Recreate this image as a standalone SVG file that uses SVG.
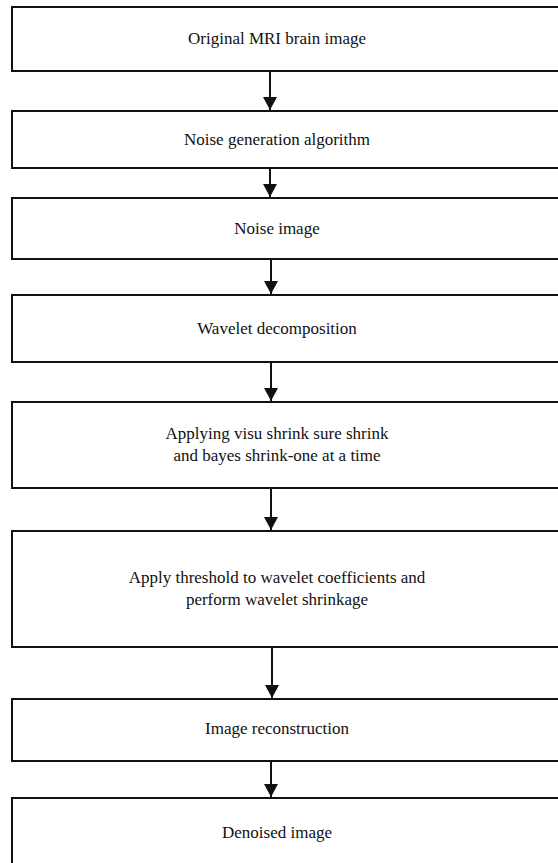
<svg xmlns="http://www.w3.org/2000/svg" width="558" height="863" viewBox="0 0 558 863">
<defs>
<style>
.box{fill:#fff;stroke:#111;stroke-width:2}
.t{font-family:"Liberation Serif","Times New Roman",serif;font-size:17px;fill:#111;text-anchor:middle}
.c{stroke:#111;stroke-width:2;fill:none;marker-end:url(#ah)}
</style>
<marker id="ah" markerWidth="13" markerHeight="14" refX="13" refY="7" orient="auto" markerUnits="userSpaceOnUse" viewBox="0 0 13 14">
<path d="M0,0 L13,7 L0,14 Z" fill="#111"/>
</marker>
</defs>
<rect width="558" height="863" fill="#fff"/>
<g id="n1"><rect class="box" x="12" y="7" width="570" height="64"/><text class="t" x="277" y="44">Original MRI brain image</text></g>
<g id="n2"><rect class="box" x="12" y="111" width="570" height="57"/><text class="t" x="277" y="145">Noise generation algorithm</text></g>
<g id="n3"><rect class="box" x="12" y="198" width="570" height="61"/><text class="t" x="277" y="234">Noise image</text></g>
<g id="n4"><rect class="box" x="12" y="295" width="570" height="67"/><text class="t" x="277" y="334">Wavelet decomposition</text></g>
<g id="n5"><rect class="box" x="12" y="402" width="570" height="86"/><text class="t" x="277" y="439">Applying visu shrink sure shrink</text><text class="t" x="277" y="461">and bayes shrink-one at a time</text></g>
<g id="n6"><rect class="box" x="12" y="531" width="570" height="116"/><text class="t" x="277" y="583">Apply threshold to wavelet coefficients and</text><text class="t" x="277" y="605">perform wavelet shrinkage</text></g>
<g id="n7"><rect class="box" x="12" y="699" width="570" height="62"/><text class="t" x="277" y="734">Image reconstruction</text></g>
<g id="n8"><rect class="box" x="12" y="798" width="570" height="80"/><text class="t" x="277" y="838">Denoised image</text></g>
<g id="connectors">
<line class="c" x1="270" y1="72" x2="270" y2="110"/>
<line class="c" x1="270" y1="169" x2="270" y2="197"/>
<line class="c" x1="271" y1="260" x2="271" y2="294"/>
<line class="c" x1="271" y1="363" x2="271" y2="401"/>
<line class="c" x1="271" y1="489" x2="271" y2="530"/>
<line class="c" x1="272" y1="648" x2="272" y2="698"/>
<line class="c" x1="271" y1="762" x2="271" y2="797"/>
</g>
</svg>
